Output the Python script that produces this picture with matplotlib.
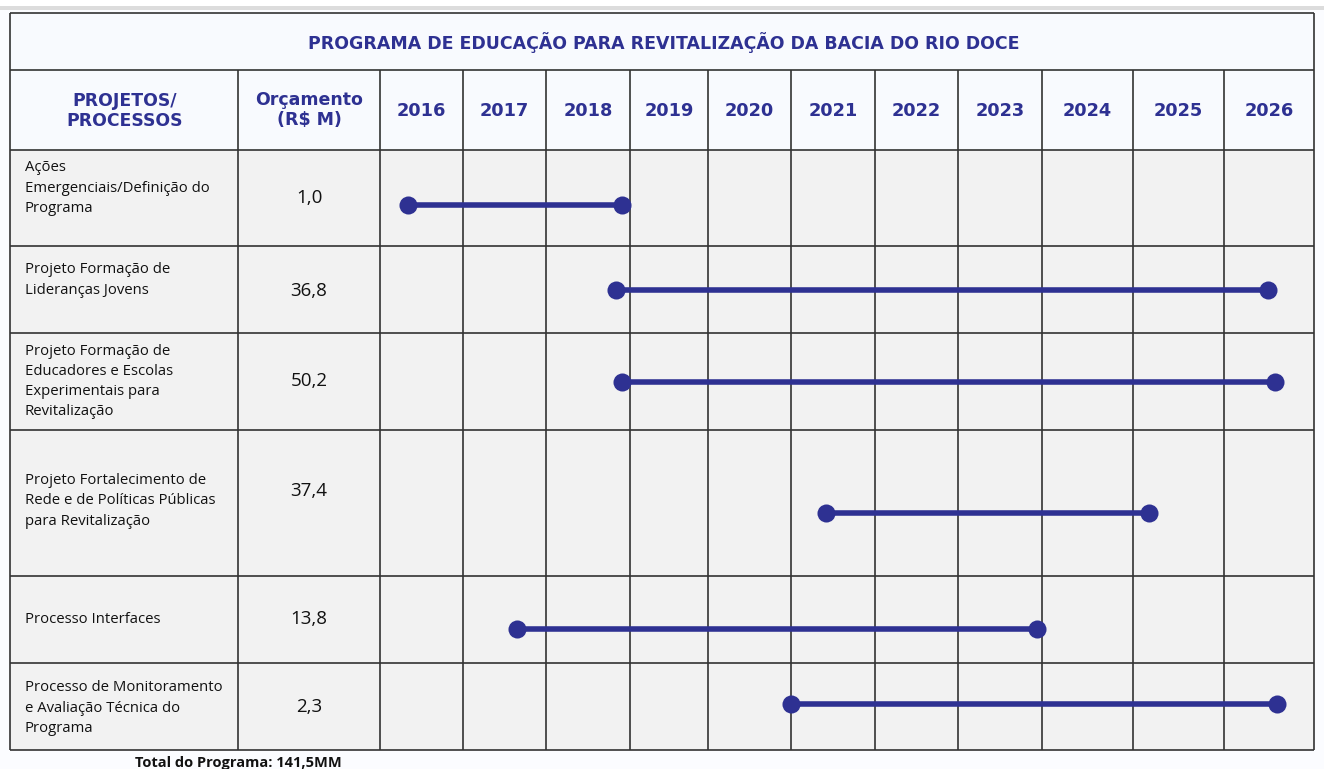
import numpy as np
import matplotlib
matplotlib.use("Agg")
import matplotlib.pyplot as plt
from matplotlib.patches import Rectangle

# ---------------- data ----------------
title = "PROGRAMA DE EDUCAÇÃO PARA REVITALIZAÇÃO DA BACIA DO RIO DOCE"
col_header_1 = "PROJETOS/\nPROCESSOS"
col_header_2 = "Orçamento\n(R$ M)"
years = [2016, 2017, 2018, 2019, 2020, 2021, 2022, 2023, 2024, 2025, 2026]
projects = [
    "Ações\nEmergenciais/Definição do\nPrograma",
    "Projeto Formação de\nLideranças Jovens",
    "Projeto Formação de\nEducadores e Escolas\nExperimentais para\nRevitalização",
    "Projeto Fortalecimento de\nRede e de Políticas Públicas\npara Revitalização",
    "Processo Interfaces",
    "Processo de Monitoramento\ne Avaliação Técnica do\nPrograma",
]
budgets = ["1,0", "36,8", "50,2", "37,4", "13,8", "2,3"]
# start / end expressed as fractional years (position within year column)
start_year = [2016.34, 2018.83, 2018.90, 2021.42, 2017.65, 2021.00]
end_year = [2018.90, 2026.49, 2026.57, 2025.18, 2023.94, 2026.59]
total_text = "Total do Programa: 141,5MM"

# ---------------- layout ----------------
W, H = 1324, 769
col_edges = [10, 238, 380, 463, 546, 630, 708, 791, 875, 958, 1042, 1133, 1224, 1314]
row_edges = [13, 70, 150, 246, 333, 430, 576, 663, 750]
label_dy = [-10, -9.5, 0, -2, 0, 1.5]
budget_dy = [0, 1.5, 0, -12, 0, 0.5]
marker_dy = [7, 0, 0, 10, 9.5, -2.5]

NAVY = "#2E3192"
GRID = "#333333"
HEAD_BG = "#F8FAFE"
BODY_BG = "#F2F2F2"

fig = plt.figure(figsize=(W / 100, H / 100), dpi=100)
fig.patch.set_facecolor("#FBFCFF")
ax = fig.add_axes([0, 0, 1, 1])
ax.set_xlim(0, W)
ax.set_ylim(H, 0)
ax.axis("off")

# top band
ax.add_patch(Rectangle((0, 0), W, 6, facecolor="white", edgecolor="none", zorder=0))
ax.add_patch(Rectangle((0, 6), W, 4, facecolor="#DCDCDC", edgecolor="none", zorder=0))

x0, x1 = col_edges[0], col_edges[-1]
# backgrounds
ax.add_patch(Rectangle((x0, row_edges[0]), x1 - x0, row_edges[2] - row_edges[0],
                       facecolor=HEAD_BG, edgecolor="none", zorder=1))
ax.add_patch(Rectangle((x0, row_edges[2]), x1 - x0, row_edges[-1] - row_edges[2],
                       facecolor=BODY_BG, edgecolor="none", zorder=1))

# grid lines
lw = 1.2
for y in row_edges:
    ax.plot([x0, x1], [y, y], color=GRID, lw=lw, zorder=2, solid_capstyle="butt")
for i, x in enumerate(col_edges):
    ytop = row_edges[0] if i in (0, len(col_edges) - 1) else row_edges[1]
    ax.plot([x, x], [ytop, row_edges[-1]], color=GRID, lw=lw, zorder=2, solid_capstyle="butt")

# title
ax.text((x0 + x1) / 2 + 2, (row_edges[0] + row_edges[1]) / 2 + 1, title,
        ha="center", va="center", fontsize=12.5, fontweight="bold",
        color=NAVY, family="DejaVu Sans", zorder=3)

# header row
hy = (row_edges[1] + row_edges[2]) / 2
ax.text((col_edges[0] + col_edges[1]) / 2 + 1, hy + 1, col_header_1, ha="center", va="center",
        fontsize=12.4, fontweight="bold", color=NAVY, family="DejaVu Sans",
        linespacing=1.2, zorder=3)
ax.text((col_edges[1] + col_edges[2]) / 2, hy, col_header_2, ha="center", va="center",
        fontsize=12.5, fontweight="bold", color=NAVY, family="DejaVu Sans",
        linespacing=1.2, zorder=3)
for j, yr in enumerate(years):
    cx = (col_edges[j + 2] + col_edges[j + 3]) / 2
    ax.text(cx, hy + 1, str(yr), ha="center", va="center", fontsize=12.8,
            fontweight="bold", color=NAVY, family="DejaVu Sans", zorder=3)

# body rows
year_edge_vals = np.arange(years[0], years[-1] + 2)
year_edge_px = np.array(col_edges[2:], dtype=float)
for i, (lab, bud) in enumerate(zip(projects, budgets)):
    cy = (row_edges[i + 2] + row_edges[i + 3]) / 2
    ax.text(col_edges[0] + 15, cy + label_dy[i], lab, ha="left", va="center",
            fontsize=10.7, color="#111111", family="Open Sans", linespacing=1.47, zorder=3)
    ax.text((col_edges[1] + col_edges[2]) / 2, cy + budget_dy[i], bud, ha="center",
            va="center", fontsize=13.5, color="#111111", family="Open Sans", zorder=3)
    xs = np.interp([start_year[i], end_year[i]], year_edge_vals, year_edge_px)
    ym = cy + marker_dy[i]
    ax.plot(xs, [ym, ym], color=NAVY, lw=4.0, marker="o", markersize=13,
            markeredgewidth=0, solid_capstyle="butt", zorder=4)

# total
ax.text(238, 763, total_text, ha="center", va="center", fontsize=10.5,
        fontweight="bold", color="#111111", family="Open Sans", zorder=3)

fig.savefig("out.png", dpi=100, facecolor=fig.get_facecolor())
